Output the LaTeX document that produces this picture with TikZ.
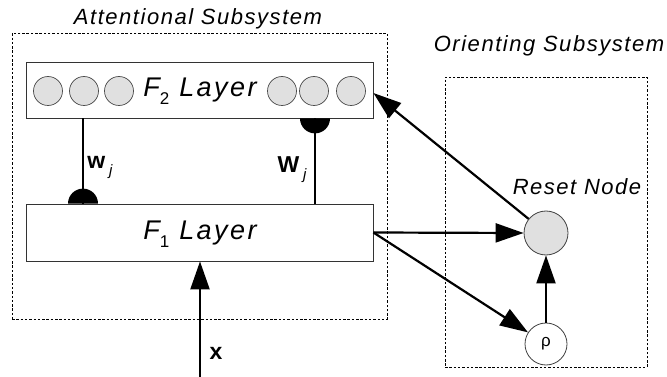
\documentclass[tikz,border=0pt]{standalone}
\usepackage{fontspec}
\usetikzlibrary{arrows.meta,calc}
\newfontfamily\labfont[LetterSpace=7]{Liberation Sans}
\newfontfamily\bigfont[LetterSpace=9]{Liberation Sans}
\newfontfamily\plainfont{Liberation Sans}
\begin{document}
\begin{tikzpicture}[x=1pt,y=-1pt,
  dashbox/.style={draw,line width=0.6pt,dash pattern=on 2.5pt off 1.8pt,minimum width=#1},
  layerbox/.style={draw=black!80,line width=0.8pt,minimum width=347pt,inner sep=0pt},
  unit/.style={draw=black!70,line width=0.7pt,fill=black!12,circle,minimum size=29pt,inner sep=0pt},
  title/.style={font=\labfont\itshape\fontsize{22}{26}\selectfont,inner sep=0pt},
  lay/.style={font=\bigfont\itshape\fontsize{27}{31}\selectfont,inner sep=0pt},
  conn/.style={line width=2.2pt},
  arr/.style={conn,-{Triangle[length=28pt,width=19pt]}},
  wlab/.style={font=\plainfont\bfseries\fontsize{23}{27}\selectfont,inner sep=0pt}
]
\useasboundingbox (0,0) rectangle (667,377);
% boxes
\node[dashbox=375pt,minimum height=286pt] (att) at (199.5,176) {};
\node[dashbox=202pt,minimum height=290pt] (ori) at (546,222) {};
\node[title] (atttitle) at (198,19) {Attentional Subsystem};
\node[title] (orititle) at (549,46) {Orienting Subsystem};
% layers
\node[layerbox,minimum height=56pt] (f2) at (199.5,90) {};
\node[layerbox,minimum height=57pt] (f1) at (199.5,232.5) {};
\node[lay] (f2t) at (200,91) {F\raisebox{-8pt}{\fontsize{17}{19}\selectfont\upshape 2}\ Layer};
\node[lay] (f1t) at (200,234) {F\raisebox{-8pt}{\fontsize{17}{19}\selectfont\upshape 1}\ Layer};
\foreach \i/\x in {a/48,b/84,c/119,d/282,e/314,f/351}{
  \node[unit] (u\i) at (\x,91) {};
}
% orienting nodes
\node[draw=black!75,line width=0.8pt,fill=black!12,circle,minimum size=44pt,inner sep=0pt] (reset) at (546,233) {};
\node[title] (resett) at (577,187) {Reset Node};
\node[draw=black!75,line width=0.8pt,fill=white,circle,minimum size=42pt,inner sep=0pt,font=\plainfont\fontsize{17}{19}\selectfont] (rho) at (546,344) {ρ};
% weights
\draw[conn] (f2.south -| 83,0) -- (f1.north -| 83,0);
\fill ($(f1.north -| 83,0)+(-15,0)$) arc[start angle=180,end angle=0,radius=15pt] -- cycle;
\draw[conn] (f2.south -| 315,0) -- (f1.north -| 315,0);
\fill ($(f2.south -| 315,0)+(-15,0)$) arc[start angle=180,end angle=360,radius=15pt] -- cycle;
\node[wlab,anchor=base] (wsmall) at (100,168) {w\,\raisebox{-7pt}{\fontsize{15}{17}\selectfont\mdseries\itshape j}};
\node[wlab,anchor=base] (wbig) at (292,172) {W\,\raisebox{-7pt}{\fontsize{15}{17}\selectfont\mdseries\itshape j}};
% arrows
\coordinate (xin) at (200,377);
\draw[arr] (xin) -- (f1.south -| xin);
\node[wlab] (xlab) at (216,353) {x};
\draw[arr] (f1.east) -- (reset.west);
\draw[arr] (f1.east) -- (rho);
\draw[arr] (reset) -- ($(f2.east)+(0,3)$);
\draw[arr] (rho) -- (reset);
\end{tikzpicture}
\end{document}
